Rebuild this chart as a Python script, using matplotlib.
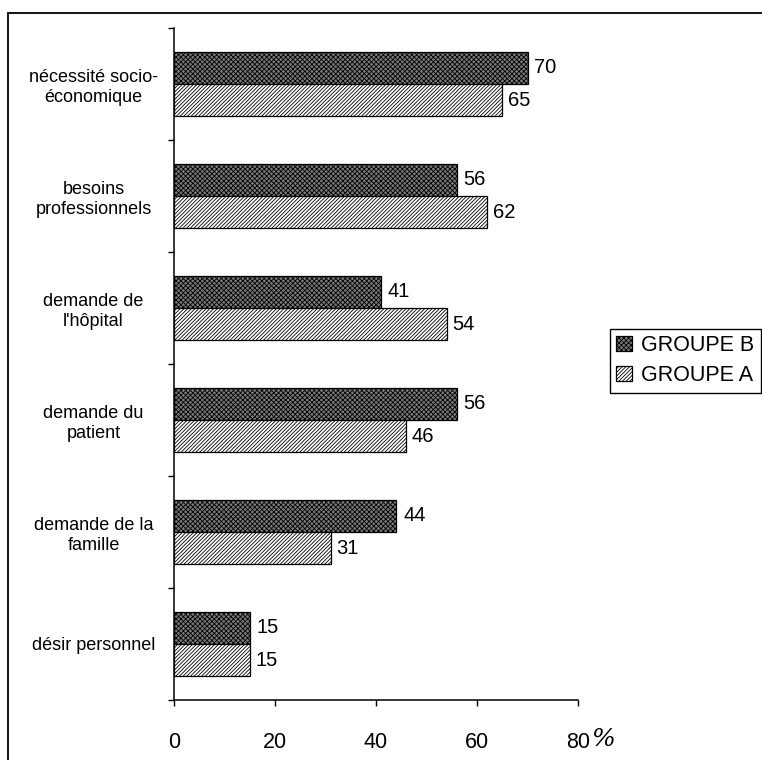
import matplotlib
matplotlib.use('Agg')
import matplotlib.pyplot as plt
from matplotlib.patches import Rectangle, Patch

plt.rcParams['font.family'] = ['Liberation Sans', 'DejaVu Sans']
plt.rcParams['hatch.linewidth'] = 0.6

categories = ["nécessité socio-\néconomique", "besoins\nprofessionnels",
              "demande de\nl'hôpital", "demande du\npatient",
              "demande de la\nfamille", "désir personnel"]
groupe_b = [70, 56, 41, 56, 44, 15]
groupe_a = [65, 62, 54, 46, 31, 15]
xticks = [0, 20, 40, 60, 80]
series_names = ["GROUPE B", "GROUPE A"]

fig = plt.figure(figsize=(7.62, 7.60), dpi=100)
ax = fig.add_axes([174/762, 60/760, (578-174)/762, 672/760])

n = len(categories)
h = 0.286
centers = [n - i - 0.5 for i in range(n)]
yb = [c + h/2 for c in centers]
ya = [c - h/2 for c in centers]

style_b = dict(facecolor='#7a7a7a', hatch='xxxxxxx', edgecolor='black', linewidth=0.9)
style_a = dict(facecolor='white', hatch='/////////', edgecolor='black', linewidth=0.9)

ax.barh(yb, groupe_b, height=h, **style_b)
ax.barh(ya, groupe_a, height=h, **style_a)

for y, v in zip(yb, groupe_b):
    ax.annotate(str(v), xy=(v, y), xytext=(5, 0), textcoords='offset points',
                ha='left', va='center', fontsize=14.5)
for y, v in zip(ya, groupe_a):
    ax.annotate(str(v), xy=(v, y), xytext=(4, 0), textcoords='offset points',
                ha='left', va='center', fontsize=14.5)

ax.set_xlim(0, 80)
ax.set_ylim(0, n)
ax.set_xticks(xticks)
ax.set_xticklabels([str(t) for t in xticks], fontsize=15.5)
ax.tick_params(axis='x', direction='out', length=4, width=1, pad=19)

ax.set_yticks(centers)
ax.set_yticklabels(categories, fontsize=13, ha='center', multialignment='center')
ax.tick_params(axis='y', which='major', length=0, pad=58)
ax.set_yticks(list(range(n + 1)), minor=True)
ax.tick_params(axis='y', which='minor', direction='out', length=4, width=1)

for s in ['top', 'right']:
    ax.spines[s].set_visible(False)
for s in ['left', 'bottom']:
    ax.spines[s].set_linewidth(1.1)

fig.text(591/762, 1 - 740/760, '%', fontsize=18, style='italic',
         family='DejaVu Serif', ha='left', va='center')

frame = Rectangle((8/762, -0.5), 2, 0.5 + (1 - 13/760), transform=fig.transFigure,
                  fill=False, edgecolor='black', linewidth=1.3)
fig.patches.append(frame)

handles = [Patch(label=series_names[0], **style_b), Patch(label=series_names[1], **style_a)]
leg = fig.legend(handles=handles, loc='upper left',
                 bbox_to_anchor=(610/762, 1 - 329/760), bbox_transform=fig.transFigure,
                 borderaxespad=0, fancybox=False, edgecolor='black', framealpha=1,
                 fontsize=15.5, handlelength=0.7, handleheight=0.7, handletextpad=0.45,
                 borderpad=0.3, labelspacing=0.4)
leg.get_frame().set_linewidth(1.0)

fig.savefig('out.png', dpi=100)
